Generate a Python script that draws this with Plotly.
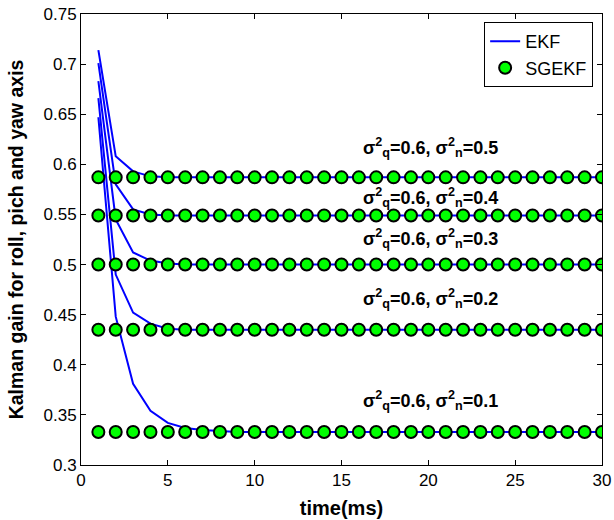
import plotly.graph_objects as go

time_ms = list(range(1, 31))

# EKF transients (first few samples), then steady state
ekf_n05 = [0.714, 0.608, 0.593, 0.588] + [0.587] * 26
ekf_n04 = [0.701, 0.580, 0.555, 0.550] + [0.549] * 26
ekf_n03 = [0.683, 0.545, 0.512, 0.504, 0.501] + [0.500] * 25
ekf_n02 = [0.666, 0.490, 0.452, 0.441, 0.436] + [0.435] * 25
ekf_n01 = [0.647, 0.448, 0.381, 0.354, 0.342, 0.337, 0.335, 0.334] + [0.333] * 22

sgekf_n05 = [0.587] * 30
sgekf_n04 = [0.549] * 30
sgekf_n03 = [0.500] * 30
sgekf_n02 = [0.435] * 30
sgekf_n01 = [0.333] * 30

label_texts = ["0.5", "0.4", "0.3", "0.2", "0.1"]
label_x = [20.1, 20.1, 20.1, 20.1, 20.1]
label_y = [0.617, 0.567, 0.526, 0.466, 0.364]

ekf_all = [ekf_n05, ekf_n04, ekf_n03, ekf_n02, ekf_n01]
sg_all = [sgekf_n05, sgekf_n04, sgekf_n03, sgekf_n02, sgekf_n01]

FONT = "Liberation Sans, Arial, Helvetica"

fig = go.Figure()
for i, ys in enumerate(ekf_all):
    fig.add_trace(go.Scatter(x=time_ms, y=ys, mode="lines",
                             line=dict(color="#0000FF", width=2),
                             name="EKF", showlegend=(i == 0)))
for i, ys in enumerate(sg_all):
    fig.add_trace(go.Scatter(x=time_ms, y=ys, mode="markers",
                             marker=dict(color="#00FF00", size=12,
                                         line=dict(color="black", width=2)),
                             name="SGEKF", showlegend=(i == 0)))

for t, xx, yy in zip(label_texts, label_x, label_y):
    fig.add_annotation(x=xx, y=yy, xref="x", yref="y", showarrow=False,
                       text="<b>σ<sup>2</sup><sub>q</sub>=0.6, σ<sup>2</sup><sub>n</sub>=" + t + "</b>",
                       font=dict(family=FONT, size=18, color="black"),
                       xanchor="center", yanchor="middle")

axis_common = dict(showline=True, linecolor="black", linewidth=1, mirror="allticks",
                   ticks="inside", ticklen=5, tickcolor="black", showgrid=False,
                   zeroline=False, automargin=False,
                   tickfont=dict(family=FONT, size=17, color="black"))

fig.update_xaxes(range=[0, 30], tickvals=[0, 5, 10, 15, 20, 25, 30],
                 title=dict(text="<b>time(ms)</b>", font=dict(family=FONT, size=20, color="black"), standoff=11),
                 **axis_common)
fig.update_yaxes(range=[0.3, 0.75], tickvals=[0.3, 0.35, 0.4, 0.45, 0.5, 0.55, 0.6, 0.65, 0.7, 0.75],
                 ticktext=["0.3", "0.35", "0.4", "0.45", "0.5", "0.55", "0.6", "0.65", "0.7", "0.75"],
                 title=dict(text="<b>Kalman gain for roll, pich and yaw axis</b>", font=dict(family=FONT, size=19.5, color="black"), standoff=14),
                 **axis_common)

fig.update_layout(
    width=614, height=520,
    margin=dict(l=81, r=12, t=14, b=55),
    plot_bgcolor="white", paper_bgcolor="white",
    legend=dict(x=0.983, y=0.982, xanchor="right", yanchor="top",
                bgcolor="white", bordercolor="black", borderwidth=1,
                font=dict(family=FONT, size=18, color="black")),
)

fig.write_html("out.html", config={"displayModeBar": False},
               post_script="document.body.style.margin='0';document.body.style.overflow='hidden';")
